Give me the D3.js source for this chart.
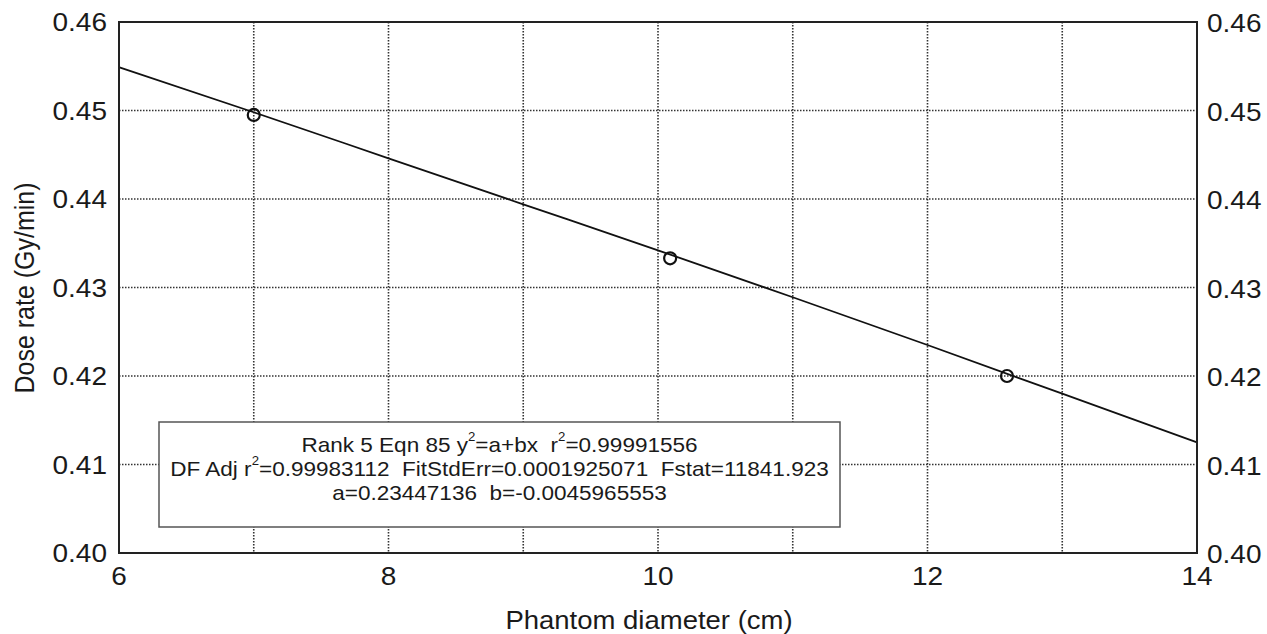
<!DOCTYPE html>
<html><head><meta charset="utf-8">
<script src="https://cdn.jsdelivr.net/npm/d3@7"></script>
<style>html,body{margin:0;padding:0;background:#fff;overflow:hidden}text{font-family:"Liberation Sans",Arial,sans-serif;fill:#1a1a1a}</style>
</head><body><svg id="c" width="1267" height="634"></svg>
<script>
// Data
const pointX = [7.0, 10.09, 12.59];
const pointY = [0.4495, 0.4333, 0.4200];
const fitX = [6, 7, 8, 9, 10, 11, 12, 13, 14];
const fitY = [0.4549, 0.4498, 0.4446, 0.4394, 0.4342, 0.4289, 0.4235, 0.4180, 0.4125];
const xTicks = [6, 8, 10, 12, 14];
const xGrid = [7, 8, 9, 10, 11, 12, 13];
const yTicks = [0.40, 0.41, 0.42, 0.43, 0.44, 0.45, 0.46];
const yGrid = [0.41, 0.42, 0.43, 0.44, 0.45];
const xTitle = "Phantom diameter (cm)";
const yTitle = "Dose rate (Gy/min)";

const svg = d3.select("#c");
const M = {l:119, r:1197, t:22, b:553};
const x = d3.scaleLinear().domain([6,14]).range([M.l, M.r]);
const y = d3.scaleLinear().domain([0.40,0.46]).range([M.b, M.t]);
const SX = 1.1; // horizontal text stretch

function stext(g, px, py, str, size, anchor, sx){
  return g.append("text").attr("transform",`translate(${px},${py}) scale(${sx||SX},1)`)
    .attr("text-anchor",anchor).attr("dominant-baseline","central")
    .attr("font-size",size).text(str);
}

svg.append("rect").attr("width",1267).attr("height",634).attr("fill","#fff");

// grid
const grid = svg.append("g").attr("stroke","#333").attr("stroke-width",1.6).attr("stroke-dasharray","1.5,1.5");
grid.selectAll(".gx").data(xGrid).join("line").attr("x1",d=>x(d)).attr("x2",d=>x(d)).attr("y1",M.t).attr("y2",M.b);
grid.selectAll(".gy").data(yGrid).join("line").attr("y1",d=>y(d)).attr("y2",d=>y(d)).attr("x1",M.l).attr("x2",M.r);

// fit line
svg.append("path").datum(fitX.map((d,i)=>[d,fitY[i]]))
  .attr("fill","none").attr("stroke","#111").attr("stroke-width",1.8)
  .attr("d", d3.line().x(d=>x(d[0])).y(d=>y(d[1])).curve(d3.curveMonotoneX));

// points
svg.selectAll(".pt").data(pointX.map((d,i)=>[d,pointY[i]])).join("circle")
  .attr("cx",d=>x(d[0])).attr("cy",d=>y(d[1])).attr("r",6)
  .attr("fill","none").attr("stroke","#111").attr("stroke-width",2.2);

// legend box
const lb = {x0:159, x1:840, y0:422, y1:527};
svg.append("rect").attr("x",lb.x0).attr("y",lb.y0).attr("width",lb.x1-lb.x0).attr("height",lb.y1-lb.y0)
  .attr("fill","#fff").attr("stroke","#555").attr("stroke-width",1.5);
const lg = svg.append("g");
const cx = (lb.x0+lb.x1)/2;
function legLine(py, parts){
  const t = lg.append("text").attr("transform",`translate(${cx},${py}) scale(${SX},1)`)
    .attr("text-anchor","middle").attr("dominant-baseline","central").attr("font-size",20.5);
  let shifted = false;
  parts.forEach(p=>{
    const ts = t.append("tspan").text(p.s);
    if(p.sup){ ts.attr("font-size",12).attr("dy",-8); shifted = true; }
    else if(shifted){ ts.attr("dy",8); shifted = false; }
  });
}
legLine(445, [{s:"Rank 5 Eqn 85 y"},{s:"2",sup:true},{s:"=a+bx\u00A0\u00A0r"},{s:"2",sup:true},{s:"=0.99991556"}]);
legLine(469, [{s:"DF Adj r"},{s:"2",sup:true},{s:"=0.99983112\u00A0\u00A0FitStdErr=0.0001925071\u00A0\u00A0Fstat=11841.923"}]);
legLine(493, [{s:"a=0.23447136\u00A0\u00A0b=-0.0045965553"}]);

// frame
svg.append("rect").attr("x",M.l).attr("y",M.t).attr("width",M.r-M.l).attr("height",M.b-M.t)
  .attr("fill","none").attr("stroke","#222").attr("stroke-width",2);

// tick labels
const tg = svg.append("g");
yTicks.forEach(v=>{
  stext(tg, 107, y(v)+1, d3.format(".2f")(v), 25, "end", 1.12);
  stext(tg, 1207, y(v)+2, d3.format(".2f")(v), 25, "start", 1.12);
});
xTicks.forEach(v=>{ stext(tg, x(v), 577, String(v), 25, "middle", 1.12); });

// titles
stext(svg, 649, 620, xTitle, 25, "middle", 1.1);
svg.append("text").attr("transform",`translate(25,288) rotate(-90) scale(1,${SX})`)
  .attr("text-anchor","middle").attr("dominant-baseline","central").attr("font-size",25).text(yTitle);
</script></body></html>
